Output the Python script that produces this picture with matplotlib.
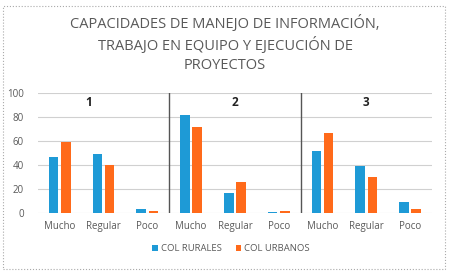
import matplotlib.pyplot as plt
from matplotlib.patches import Rectangle
import numpy as np

# data
categories = ["Mucho", "Regular", "Poco"] * 3
group_labels = ["1", "2", "3"]
rurales = [47, 49, 3, 82, 17, 0.7, 52, 39, 9]
urbanos = [59, 40, 1.5, 72, 26, 1.5, 67, 30, 3]

title = "CAPACIDADES DE MANEJO DE INFORMACIÓN,\nTRABAJO EN EQUIPO Y EJECUCIÓN DE\nPROYECTOS"

plt.rcParams['font.family'] = ['Open Sans', 'DejaVu Sans']

fig = plt.figure(figsize=(4.5, 2.76), dpi=100)
ax = fig.add_axes([0.084, 0.228, 0.876, 0.435])

x = np.arange(len(categories))
w = 0.22
ax.bar(x - 0.14, rurales, width=w, color="#1E9AD6", label="COL RURALES", zorder=3)
ax.bar(x + 0.14, urbanos, width=w, color="#FF6A1A", label="COL URBANOS", zorder=3)

ax.set_xlim(-0.5, 8.5)
ax.set_ylim(0, 100)
ax.set_yticks(range(0, 101, 20))
ax.set_xticks(x)
ax.set_xticklabels(categories)
ax.tick_params(axis='both', length=0, labelsize=7, labelcolor="#595959")
ax.tick_params(axis='y', pad=10)
ax.tick_params(axis='x', pad=6)
ax.grid(axis='y', color="#d0d0d0", lw=0.8, zorder=0)
for s in ax.spines.values():
    s.set_visible(False)

# group separators and labels
for sep in [2.5, 5.5]:
    ax.plot([sep, sep], [0, 100], color="#555555", lw=1.0, zorder=4)
for i, lab in enumerate(group_labels):
    ax.text(3 * i + 1 - (0.35 if i == 0 else 0), 92, lab, ha='center', va='center',
            fontsize=8.5, fontweight='bold', color="#222222")

fig.text(0.5, 0.84, title, ha='center', va='center', fontsize=10.5,
         color="#595959", linespacing=1.35)

ax.legend(loc='upper center', bbox_to_anchor=(0.49, -0.19), ncol=2, frameon=False,
          fontsize=6.8, handlelength=0.6, handleheight=0.6, handletextpad=0.3,
          columnspacing=1.5, labelcolor="#595959")

fig.patches.append(Rectangle((0.007, 0.025), 0.983, 0.955, transform=fig.transFigure,
                             fill=False, ec="#aaaaaa", lw=0.8, ls=':'))

fig.savefig("out.png", dpi=100)
